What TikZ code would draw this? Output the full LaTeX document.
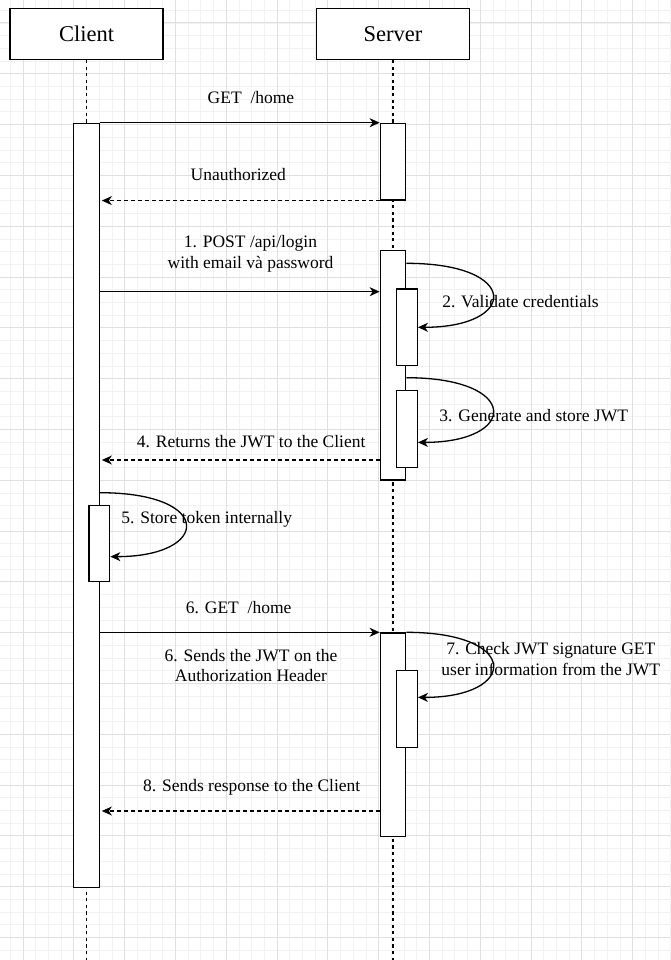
\documentclass[tikz,border=0pt]{standalone}
\usepackage{fontspec}
\setmainfont{Liberation Serif}
\usepackage{tikz}
\usetikzlibrary{arrows.meta, positioning}
\definecolor{gridmajor}{HTML}{E0E0E0}
\definecolor{gridminor}{HTML}{F2F2F2}
\newcommand{\LabelFont}{\fontsize{17.5}{20.5}\selectfont}
\newcommand{\HeadFont}{\fontsize{22.5}{27}\selectfont}
\tikzset{
    head/.style={draw, line width=1.3pt, fill=white, minimum width=153pt, minimum height=51pt, inner sep=0pt, font=\HeadFont},
    act/.style={draw, line width=1.3pt, fill=white, minimum width=25.4pt, inner sep=0pt, anchor=north},
    subact/.style={act, minimum width=20.6pt},
    lifeline/.style={line width=1.3pt, dash pattern=on 3.3pt off 3.3pt},
    msg/.style={line width=1.3pt, -{Stealth[length=10pt, width=9pt, inset=3pt]}},
    reply/.style={msg, dash pattern=on 4pt off 3pt, shorten >=2pt},
    lbl/.style={font=\LabelFont, align=center, anchor=base, inner sep=0pt},
}

\begin{document}
\begin{tikzpicture}[x=1pt, y=-1pt]
    \useasboundingbox (0,0) rectangle (670,960);

    % grid
    \foreach \i in {0,...,52} \draw[gridminor, line width=0.8pt] ({10.3+12.7*\i},0) -- ++(0,960);
    \foreach \i in {0,...,75} \draw[gridminor, line width=0.8pt] (0,{10.3+12.7*\i}) -- ++(670,0);
    \foreach \i in {0,...,12} \draw[gridmajor, line width=1pt] ({23+50.8*\i},0) -- ++(0,960);
    \foreach \i in {0,...,18} \draw[gridmajor, line width=1pt] (0,{23+50.8*\i}) -- ++(670,0);

    \node[head] (client) at (86.5,33.8) {Client};
    \node[head, right=152.2pt of client] (server) {Server};

    \coordinate (bottom) at (0,960);
    \draw[lifeline] (client.south) -- (client.south |- bottom);
    \draw[lifeline] (server.south) -- (server.south |- bottom);

    \node[act, minimum height=764.3pt] (ca) at (client.south |- 0,122.7) {};
    \node[act, minimum height=76.6pt] (sa1) at (server.south |- 0,122.7) {};
    \node[act, minimum height=229.3pt] (sa2) at (server.south |- 0,250) {};
    \node[act, minimum height=203.7pt] (sa3) at (server.south |- 0,632.3) {};
    \node[subact, minimum height=76.7pt] (sv1) at (407,288.3) {};
    \node[subact, minimum height=76.7pt] (sv2) at (407,390) {};
    \node[subact, minimum height=76.7pt] (sv3) at (407,670) {};
    \node[subact, minimum height=76pt, minimum width=20.7pt] (cs) at (99.35,505) {};

    \node[lbl] (lget) at (251,103.5) {GET\ \ /home};
    \node[lbl] (lunauth) at (238.3,180) {Unauthorized};
    \node[lbl] (llogin) at (250.5,268) {1. POST /api/login\\with email và password};
    \node[lbl] (lvalid) at (520.5,307.7) {2. Validate credentials};
    \node[lbl] (lgen) at (533.7,421.5) {3. Generate and store JWT};
    \node[lbl] (lret) at (251.2,447.3) {4. Returns the JWT to the Client};
    \node[lbl] (lstore) at (206.7,523.3) {5. Store token internally};
    \node[lbl] (lget2) at (238.7,613.3) {6. GET\ \ /home};
    \node[lbl] (lsend) at (251,681.5) {6. Sends the JWT on the\\Authorization Header};
    \node[lbl] (lcheck) at (550.8,675) {7. Check JWT signature GET\\user information from the JWT};
    \node[lbl] (lresp) at (251.7,791.7) {8. Sends response to the Client};

    \coordinate (tlogin) at (0,291.7);
    \coordinate (tret) at (0,460);
    \coordinate (tresp) at (0,811);

    \draw[msg] (ca.north east) -- (sa1.north west);
    \draw[reply] (sa1.south west) -- (ca.east |- sa1.south);
    \draw[msg] (ca.east |- tlogin) -- (sa2.west |- tlogin);
    \draw[msg] ([yshift=-13.3pt]sa2.north east) .. controls +(115,0) and +(100,0) .. (sv1.east);
    \draw[msg] ([yshift=-127.7pt]sa2.north east) .. controls +(115,0) and +(100,0) .. ([yshift=-13.4pt]sv2.east);
    \draw[reply] (sa2.west |- tret) -- (ca.east |- tret);
    \draw[msg] ([yshift=-370pt]ca.north east) .. controls +(115,0) and +(100,0) .. ([yshift=-13pt]cs.east);
    \draw[msg] (ca.east |- sa3.north) -- (sa3.north west);
    \draw[msg] (sa3.north east) .. controls +(115,0) and +(100,0) .. ([yshift=11.6pt]sv3.east);
    \draw[reply] (sa3.west |- tresp) -- (ca.east |- tresp);
\end{tikzpicture}
\end{document}
